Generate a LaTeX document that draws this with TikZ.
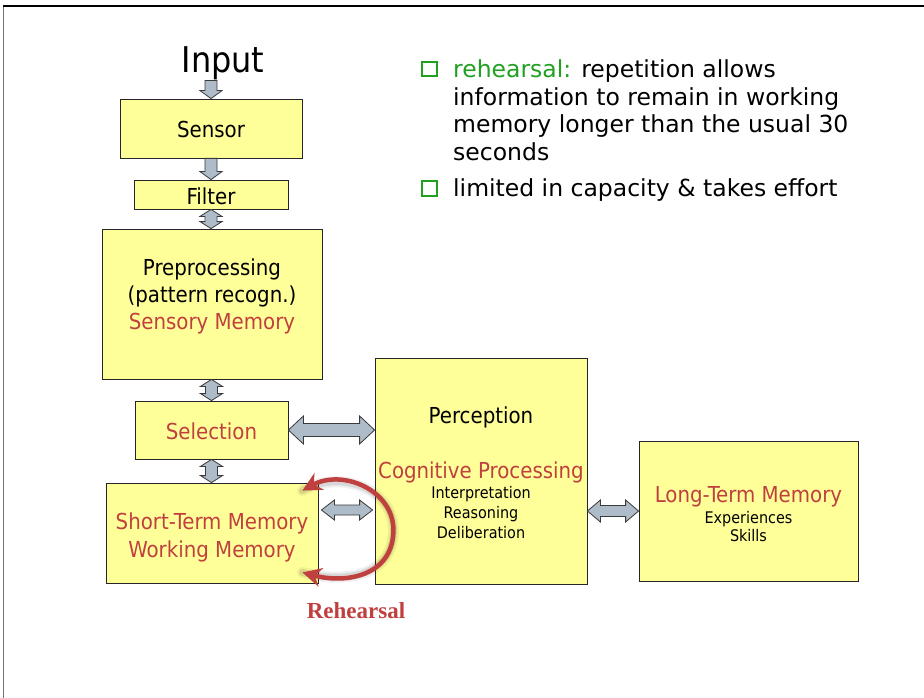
\documentclass[tikz,border=0pt]{standalone}
\usepackage{fontspec}
\setmainfont{DejaVu Sans}
\newfontfamily\boxfont{DejaVu Sans Condensed}
\newfontfamily\labelserif{Liberation Serif}
\usetikzlibrary{calc,arrows.meta}

\definecolor{boxfill}{HTML}{FFFF99}
\definecolor{memred}{HTML}{C0403F}
\definecolor{bulletgreen}{HTML}{22A022}
\definecolor{arrowfill}{HTML}{AEBBC9}
\definecolor{arrowline}{HTML}{3A3A3A}

\tikzset{
  stage/.style={draw=black!85, line width=0.8pt, fill=boxfill, inner sep=0pt},
  boxtext/.style={font=\boxfont\fontsize{22}{26}\selectfont, inner sep=0pt, anchor=base},
  redtext/.style={boxtext, text=memred},
  smalltext/.style={font=\boxfont\fontsize{16}{19}\selectfont, inner sep=0pt, anchor=base},
  bullettext/.style={font=\fontsize{23.5}{28}\selectfont, inner sep=0pt, anchor=base west},
  bulletbox/.style={draw=bulletgreen, line width=2pt, minimum size=14.5pt, inner sep=0pt},
  blockarrow/.style={draw=arrowline, line width=0.8pt, fill=arrowfill, line join=miter},
  loopline/.style={draw=memred, line width=4.5pt,
    {Stealth[length=19pt,width=19pt]}-{Stealth[length=19pt,width=19pt]}},
}

% block arrow with a head at the second end only
% #1 from, #2 to, #3 shaft half width, #4 head half width, #5 head length
\newcommand\blocksingle[5]{%
  \coordinate (ba) at #1; \coordinate (bb) at #2;
  \coordinate (hb) at ($(bb)!#5!(ba)$);
  \draw[blockarrow] ($(ba)!#3!90:(bb)$) -- ($(hb)!#3!-90:(ba)$) -- ($(hb)!#4!-90:(ba)$)
    -- (bb) -- ($(hb)!#4!90:(ba)$) -- ($(hb)!#3!90:(ba)$) -- ($(ba)!#3!-90:(bb)$) -- cycle;}

% block arrow with heads at both ends
\newcommand\blockdouble[5]{%
  \coordinate (ba) at #1; \coordinate (bb) at #2;
  \coordinate (ha) at ($(ba)!#5!(bb)$); \coordinate (hb) at ($(bb)!#5!(ba)$);
  \draw[blockarrow] (ba) -- ($(ha)!#4!90:(bb)$) -- ($(ha)!#3!90:(bb)$)
    -- ($(hb)!#3!-90:(ba)$) -- ($(hb)!#4!-90:(ba)$) -- (bb)
    -- ($(hb)!#4!90:(ba)$) -- ($(hb)!#3!90:(ba)$)
    -- ($(ha)!#3!-90:(bb)$) -- ($(ha)!#4!-90:(bb)$) -- cycle;}

\begin{document}
\begin{tikzpicture}[x=1pt,y=-1pt]
\useasboundingbox[fill=white] (0,0) rectangle (924,698);

% slide frame
\draw[line width=1pt, black!55] (3,698) -- (3,6);
\draw[line width=1.4pt, black] (3,6) -- (924,6);

% stages
\node[stage, minimum width=182pt, minimum height=59pt]  (sensor)     at (211,128.5) {};
\node[stage, minimum width=154pt, minimum height=29pt]  (filter)     at (211,194.5) {};
\node[stage, minimum width=220pt, minimum height=150pt] (prep)       at (212,304)   {};
\node[stage, minimum width=153pt, minimum height=58pt]  (selection)  at (211.5,430) {};
\node[stage, minimum width=212pt, minimum height=100pt] (stm)        at (212,533)   {};
\node[stage, minimum width=212pt, minimum height=226pt] (perception) at (481,471)   {};
\node[stage, minimum width=219pt, minimum height=140pt] (ltm)        at (748.5,511) {};

% texts
\node[font=\boxfont\fontsize{35.5}{40}\selectfont, inner sep=0pt, anchor=base] (input) at (223,73) {Input};
\node[boxtext] (tsensor) at (211,138) {Sensor};
\node[boxtext] (tfilter) at (211,204.5) {Filter};
\node[boxtext] (tprep1) at (212,275) {Preprocessing};
\node[boxtext] (tprep2) at (212,302) {(pattern recogn.)};
\node[redtext] (tprep3) at (212,329) {Sensory Memory};
\node[redtext] (tsel) at (211.5,439) {Selection};
\node[redtext] (tstm1) at (212,529) {Short-Term Memory};
\node[redtext] (tstm2) at (212,557) {Working Memory};
\node[boxtext] (tperc) at (481,423) {Perception};
\node[redtext] (tcog) at (481,478) {Cognitive Processing};
\node[smalltext] (tint) at (481,498) {Interpretation};
\node[smalltext] (treas) at (481,518) {Reasoning};
\node[smalltext] (tdel) at (481,538) {Deliberation};
\node[redtext] (tltm) at (748.5,502) {Long-Term Memory};
\node[smalltext] (texp) at (748.5,523) {Experiences};
\node[smalltext] (tskill) at (748.5,541) {Skills};

% block arrows between stages
\blocksingle{(input.south -| sensor.north)}{(sensor.north)}{6pt}{11pt}{8pt}
\blocksingle{(sensor.south)}{(sensor.south |- filter.north)}{6pt}{11pt}{8pt}
\blockdouble{(filter.south)}{(filter.south |- prep.north)}{6pt}{11pt}{7pt}
\blockdouble{(selection.north |- prep.south)}{(selection.north)}{6pt}{11pt}{7pt}
\blockdouble{(selection.south)}{(selection.south |- stm.north)}{6pt}{11pt}{7pt}
\blockdouble{(selection.east)}{(selection.east -| perception.west)}{6.5pt}{14pt}{15pt}
\coordinate (stmport) at ($(stm.east)+(3,-23)$);
\coordinate (percport) at ($(stmport -| perception.west)+(-2,0)$);
\blockdouble{(stmport)}{(percport)}{5pt}{10pt}{13pt}
\blockdouble{(ltm.west -| perception.east)}{(ltm.west)}{5.5pt}{11pt}{13pt}

% rehearsal loop
\coordinate (rtop) at ($(stm.north east)+(-16,8)$);
\coordinate (rbot) at ($(stm.south east)+(-16,-11)$);
\coordinate (rmid) at ($(stm.east)+(75,-3)$);
\begin{scope}[shift={(2.5,2.5)}]
  \draw[line width=11pt, black, opacity=0.06, line cap=round]
    (rtop) .. controls +(40,-22) and +(0,-40) .. (rmid) .. controls +(0,45) and +(45,12) .. (rbot);
  \draw[line width=7pt, black, opacity=0.10, line cap=round]
    (rtop) .. controls +(40,-22) and +(0,-40) .. (rmid) .. controls +(0,45) and +(45,12) .. (rbot);
\end{scope}
\draw[loopline]
  (rtop) .. controls +(40,-22) and +(0,-40) .. (rmid) .. controls +(0,45) and +(45,12) .. (rbot);
\node[font=\labelserif\bfseries\fontsize{23}{27}\selectfont, text=memred, inner sep=0pt, anchor=base]
  (rlabel) at (356,618) {Rehearsal};

% bullet list
\node[bulletbox] (sq1) at (429.5,69) {};
\node[bulletbox] (sq2) at (429.5,188.5) {};
\node[bullettext] (l1) at (453,78) {\textcolor{bulletgreen}{rehearsal:} repetition allows};
\node[bullettext] (l2) at (453,105.5) {information to remain in working};
\node[bullettext] (l3) at (453,133) {memory longer than the usual 30};
\node[bullettext] (l4) at (453,160.5) {seconds};
\node[bullettext] (l5) at (453,196.5) {limited in capacity \& takes effort};
\end{tikzpicture}
\end{document}
